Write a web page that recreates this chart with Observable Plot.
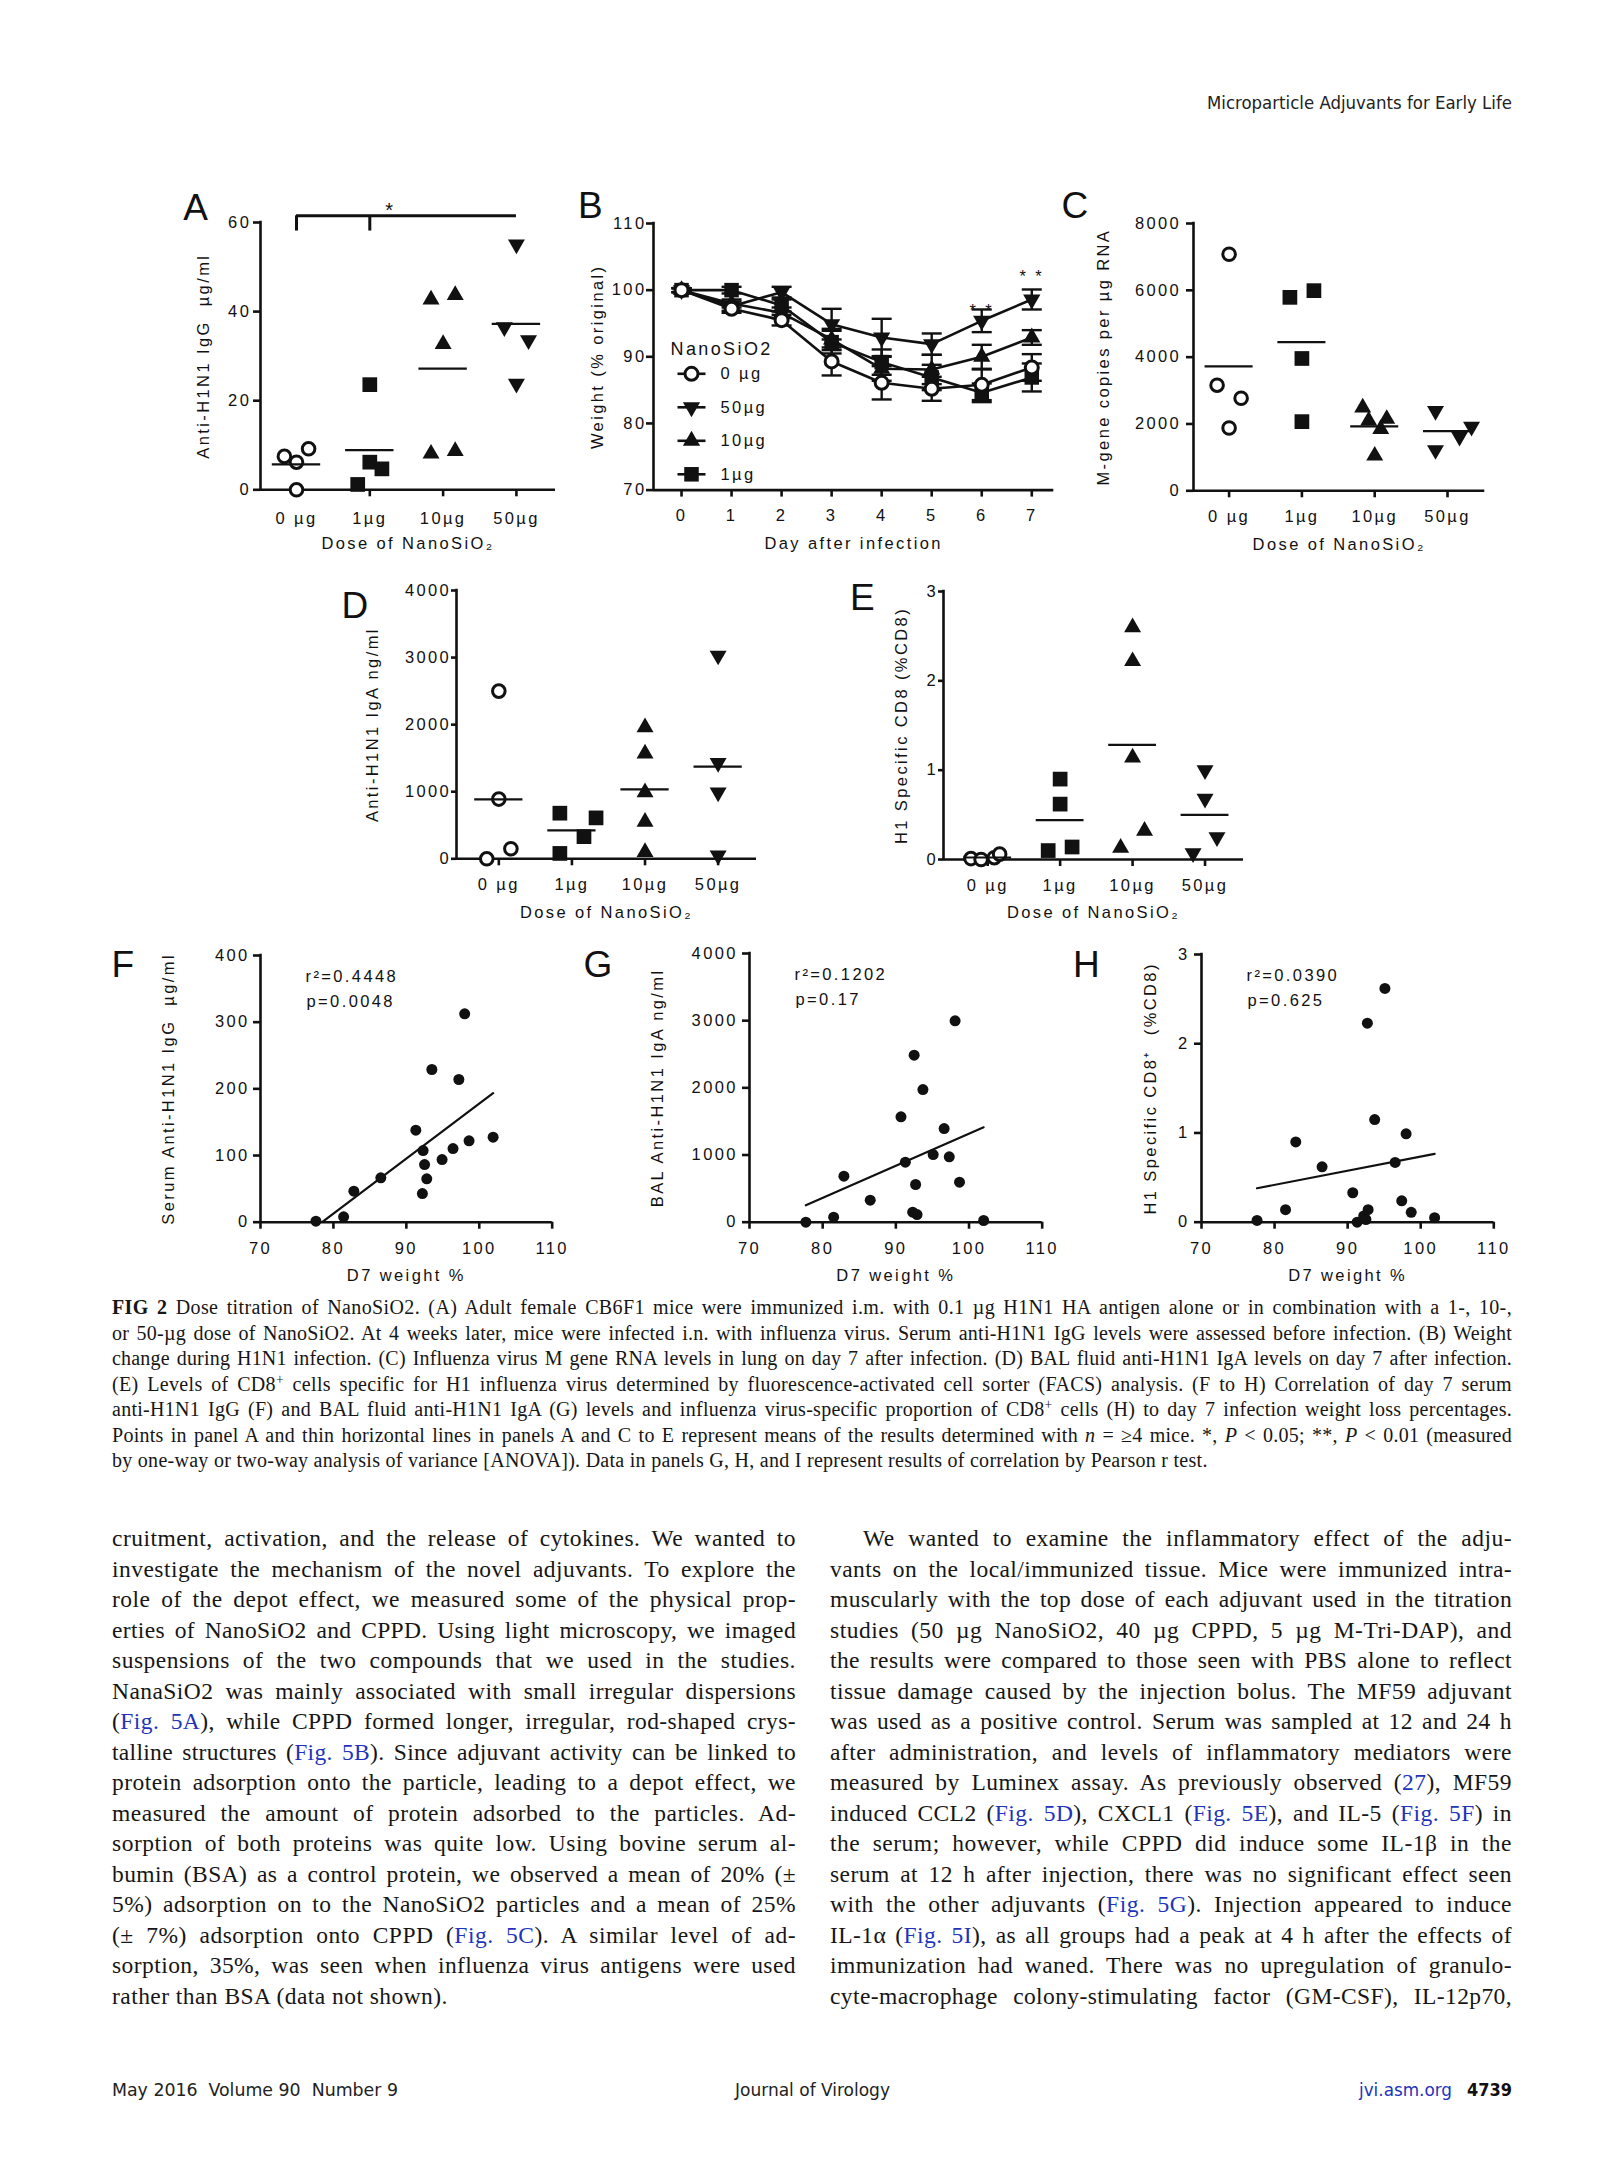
<!DOCTYPE html>
<html><head><meta charset="utf-8">
<script src="https://cdn.jsdelivr.net/npm/d3@7"></script>
<script src="https://cdn.jsdelivr.net/npm/@observablehq/plot@0.6"></script>
<style>
html,body{margin:0;padding:0;background:#fff;}
body{width:1624px;height:2174px;position:relative;overflow:hidden;}
.abs{position:absolute;}
.letter{position:absolute;font-family:'Liberation Sans',Arial,sans-serif;font-size:37px;line-height:37px;color:#111;}
.lnk{color:#2233bb;}
sup{font-size:0.68em;line-height:0;vertical-align:0.5em;}
.hf{position:absolute;white-space:nowrap;font-family:'Liberation Sans Narrow','DejaVu Sans Condensed','Liberation Sans',sans-serif;font-size:17px;line-height:20px;color:#222;transform-origin:0 0;}
</style></head><body>
<script>
// ================= DATA =================
const doseLabels = ["0 µg", "1µg", "10µg", "50µg"];

// Panel A: serum anti-H1N1 IgG (µg/ml) per dose group
const iggA = [[7.5, 6.2, 9.2, 0], [23.6, 6.2, 4.7, 1.2], [42.7, 43.7, 32.7, 8.1, 8.7], [55.1, 36.5, 33.6, 23.8]];
const slotsA = [[-1, 0, 1, 0], [0, 0, 1, -1], [-1, 1, 0, -1, 1], [0, -1, 1, 0]];
const sigA = {from: 0, mid: 1, to: 3, label: "*"};

// Panel B: weight (% original) by day
const days = [0, 1, 2, 3, 4, 5, 6, 7];
const weightSeries = ["0 µg", "50µg", "10µg", "1µg"];
const weight0 = [100, 97.2, 95.5, 89.3, 86.1, 85.2, 85.8, 88.4];
const weight50 = [100, 97.6, 99.7, 94.9, 92.9, 91.9, 95.4, 98.6];
const weight10 = [100, 98.0, 96.6, 92.6, 88.2, 88.1, 90.0, 92.9];
const weight1 = [100, 100, 97.7, 92.2, 89.2, 86.9, 84.6, 86.9];
const sem0 = [0.3, 0.6, 0.8, 2.1, 2.5, 1.8, 2.3, 2.0];
const sem50 = [0.3, 0.7, 0.8, 2.3, 2.8, 1.6, 1.7, 1.5];
const sem10 = [0.3, 0.6, 0.8, 1.6, 1.8, 2.2, 1.8, 1.1];
const sem1 = [0.3, 0.5, 0.9, 1.7, 1.9, 1.9, 1.4, 2.1];
const starsB = [{day: 6, label: "* *"}, {day: 7, label: "* *"}];

// Panel C: M-gene copies per µg RNA
const mgeneC = [[7080, 3160, 2770, 1880], [5790, 5990, 3960, 2070], [2490, 2100, 2150, 1850, 1050], [2390, 1220, 1620, 1920]];
const slotsC = [[0, -1, 1, 0], [-1, 1, 0, 0], [-1, -0.5, 1, 0.5, 0], [-1, -1, 1, 2]];

// Panel D: BAL anti-H1N1 IgA ng/ml
const igaD = [[2500, 890, 150, 0], [680, 610, 330, 80], [1960, 1570, 990, 550, 100], [3030, 1430, 990, 50]];
const slotsD = [[0, 0, 1, -1], [-1, 2, 1, -1], [0, 0, 0, 0, 0], [0, 0, 0, 0]];

// Panel E: H1 specific CD8 (% CD8)
const cd8E = [[0.01, 0.0, 0.02, 0.06], [0.90, 0.62, 0.10, 0.14], [2.60, 2.22, 1.14, 0.32, 0.13], [1.00, 0.68, 0.25, 0.07]];
const slotsE = [[-1.4, -0.55, 0.55, 1], [0, 0, -1, 1], [0, 0, 0, 1, -1], [0, 0, 1, -1]];

// Panels F-H: correlations with D7 weight %
const weightF = [77.6, 81.4, 82.8, 86.5, 91.3, 92.2, 92.3, 92.5, 92.8, 93.5, 94.9, 96.4, 97.2, 98.0, 98.6, 101.9];
const serumIgGF = [1.5, 8, 46.5, 66.5, 138, 43, 107.5, 86.5, 65, 229, 94, 110.5, 214, 312.5, 122, 127.5];
const weightG = [77.7, 81.5, 82.9, 86.5, 90.7, 91.3, 92.5, 93.7, 92.7, 92.3, 92.9, 95.1, 96.6, 97.3, 98.1, 98.7, 102.0];
const balIgAG = [0, 74, 685, 327, 1568, 893, 2486, 1975, 561, 149, 114, 1007, 1394, 973, 2997, 595, 25];
const weightH = [77.6, 81.5, 82.9, 86.5, 90.7, 91.3, 92.7, 92.2, 92.5, 92.8, 93.7, 95.1, 96.5, 97.4, 98.0, 98.7, 101.9];
const cd8H = [0.02, 0.14, 0.90, 0.62, 0.33, 0.0, 2.23, 0.07, 0.03, 0.14, 1.15, 2.62, 0.67, 0.24, 0.99, 0.11, 0.05];
const statsF = ["r²=0.4448", "p=0.0048"];
const statsG = ["r²=0.1202", "p=0.17"];
const statsH = ["r²=0.0390", "p=0.625"];

// ================= STYLE =================
const INK = "#111";
const AXIS_W = 2.6;
const SLOT = 0.165;
const MEAN_HALF = 0.33;
const FONT = "'Liberation Sans', Arial, Helvetica, sans-serif";
const sqrt3 = Math.sqrt(3);
const triangleDown = {draw(ctx, size) {
  const y = -Math.sqrt(size / (sqrt3 * 3));
  ctx.moveTo(0, -2 * y); ctx.lineTo(-sqrt3 * y, y); ctx.lineTo(sqrt3 * y, y); ctx.closePath();
}};
const hline = {draw(ctx, size) {
  const w = Math.sqrt(size / Math.PI);
  ctx.moveTo(-w, 0); ctx.lineTo(w, 0);
}};
const groupStyle = [
  {symbol: "circle", r: 6.3, fill: "white", stroke: INK, strokeWidth: 3},
  {symbol: "square", r: 8.3, fill: INK, stroke: "none"},
  {symbol: "triangle", r: 6.3, fill: INK, stroke: "none"},
  {symbol: triangleDown, r: 6.3, fill: INK, stroke: "none"}
];
const seriesStyle = [
  {symbol: "circle", r: 6.5, fill: "white", stroke: INK, strokeWidth: 3},
  {symbol: triangleDown, r: 6.4, fill: INK, stroke: "none"},
  {symbol: "triangle", r: 6.4, fill: INK, stroke: "none"},
  {symbol: "square", r: 8.2, fill: INK, stroke: "none"}
];

function makePanel(o) {
  const [x0, y0, x1, y1] = o.frame;
  const mL = 115, mT = 60, mR = 30, mB = 85;
  const svg = Plot.plot({
    width: x1 - x0 + mL + mR,
    height: y1 - y0 + mT + mB,
    marginLeft: mL, marginTop: mT, marginRight: mR, marginBottom: mB,
    x: {type: "linear", domain: o.xDomain},
    y: {type: "linear", domain: o.yDomain},
    style: `font-family:${FONT};font-size:16.5px;letter-spacing:2.4px;color:${INK};background:transparent;overflow:visible;`,
    marks: [
      Plot.ruleY([o.yDomain[0]], {stroke: INK, strokeWidth: AXIS_W}),
      Plot.ruleX([o.xDomain[0]], {stroke: INK, strokeWidth: AXIS_W, strokeLinecap: "square"}),
      Plot.axisX({ticks: o.xTicks, tickFormat: o.xTickFormat, tickSize: 7, tickPadding: o.xTickPad, stroke: INK, strokeWidth: AXIS_W, label: null}),
      Plot.axisY({ticks: o.yTicks, tickFormat: d => String(d), tickSize: o.yTickSize ?? 7, tickPadding: o.yTickPad, stroke: INK, strokeWidth: AXIS_W, label: null}),
      Plot.text([o.xLabel], {text: d => d, frameAnchor: "bottom", dy: 53.5, textAnchor: "middle", lineAnchor: "middle", fill: INK}),
      Plot.text([o.yLabel], {text: d => d, frameAnchor: "left", dx: -o.yLabelOffset, rotate: -90, textAnchor: "middle", lineAnchor: "middle", fill: INK}),
      ...o.marks
    ]
  });
  Object.assign(svg.style, {position: "absolute", left: (x0 - mL) + "px", top: (y0 - mT) + "px", maxWidth: "none"});
  document.body.appendChild(svg);
}

function dotMarks(groups, slots) {
  const rows = groups.flatMap((vals, g) => vals.map((v, i) => ({g, v, x: g + slots[g][i] * SLOT})));
  const means = groups.map((vals, g) => ({g, m: d3.mean(vals)}));
  return [
    ...groupStyle.map((s, g) => Plot.dot(rows.filter(d => d.g === g), {x: "x", y: "v", ...s})),
    Plot.ruleY(means, {y: "m", x1: d => d.g - MEAN_HALF, x2: d => d.g + MEAN_HALF, stroke: INK, strokeWidth: 2.2})
  ];
}

function dotPanel(o) {
  makePanel({...o, xTicks: [0, 1, 2, 3], xTickFormat: i => doseLabels[i], xLabel: "Dose of NanoSiO₂",
    marks: [...dotMarks(o.groups, o.slots), ...(o.extra || [])]});
}

function scatterPanel(o) {
  const rows = o.xs.map((x, i) => ({x, y: o.ys[i]}));
  makePanel({...o, xDomain: [70, 110], xTicks: [70, 80, 90, 100, 110], xTickFormat: d => String(d), xLabel: "D7 weight %",
    marks: [
      Plot.linearRegressionY(rows, {x: "x", y: "y", ci: 0, stroke: INK, strokeWidth: 2.2, clip: true}),
      Plot.dot(rows, {x: "x", y: "y", r: 5.5, fill: INK}),
      Plot.text([o.stats[0]], {text: d => d, frameAnchor: "top-left", dx: 45, dy: 21.5, textAnchor: "start", lineAnchor: "middle", fill: INK}),
      Plot.text([o.stats[1]], {text: d => d, frameAnchor: "top-left", dx: 46, dy: 46.5, textAnchor: "start", lineAnchor: "middle", fill: INK})
    ]});
}

// ---- Panel A ----
const bracketTop = 60 * 1.025, bracketFoot = 60 * 0.968;
dotPanel({frame: [260, 221.7, 555, 489], xDomain: [-0.491, 3.533], yDomain: [0, 60], yTicks: [0, 20, 40, 60],
  yTickPad: 2.3, xTickPad: 15.4, yLabel: "Anti-H1N1 IgG  µg/ml", yLabelOffset: 56.7,
  groups: iggA, slots: slotsA,
  extra: [
    Plot.ruleY([bracketTop], {x1: sigA.from, x2: sigA.to, stroke: INK, strokeWidth: 3}),
    Plot.ruleX([sigA.from, sigA.mid], {x: d => d, y1: bracketFoot, y2: bracketTop, stroke: INK, strokeWidth: 3}),
    Plot.text([sigA], {x: d => (d.from + d.to) / 2, y: bracketTop, text: "label", dx: -16, dy: 1, lineAnchor: "bottom", fontSize: 20, fill: INK})
  ]});

// ---- Panel B ----
const weights = [weight0, weight50, weight10, weight1];
const sems = [sem0, sem50, sem10, sem1];
const weightRows = weightSeries.flatMap((s, k) => days.map((d, i) => ({k, day: d, v: weights[k][i], e: sems[k][i]})));
const legendMarks = weightSeries.flatMap((s, k) => [
  Plot.dot([s], {frameAnchor: "top-left", dx: 38, dy: 150.3 + k * 33.5, symbol: hline, r: 14, stroke: INK, strokeWidth: 2.6, fill: "none"}),
  Plot.dot([s], {frameAnchor: "top-left", dx: 38, dy: 150.3 + k * 33.5, ...seriesStyle[k]}),
  Plot.text([s], {text: d => d, frameAnchor: "top-left", dx: 67, dy: 150.3 + k * 33.5, textAnchor: "start", lineAnchor: "middle", fill: INK})
]);
const starY = d => weight50[d.day] + sem50[d.day];
makePanel({frame: [653, 222.7, 1053.3, 489.3], xDomain: [-0.56, 7.44], yDomain: [70, 110],
  xTicks: days, xTickFormat: d => String(d), xTickPad: 12.1, yTicks: [70, 80, 90, 100, 110], yTickPad: 0,
  xLabel: "Day after infection", yLabel: "Weight (% original)", yLabelOffset: 55.7,
  marks: [
    Plot.line(weightRows, {x: "day", y: "v", z: "k", stroke: INK, strokeWidth: 2.6}),
    Plot.ruleX(weightRows, {x: "day", y1: d => d.v - d.e, y2: d => d.v + d.e, stroke: INK, strokeWidth: 2.4}),
    Plot.dot(weightRows, {x: "day", y: d => d.v + d.e, symbol: hline, r: 10, stroke: INK, strokeWidth: 2.4, fill: "none"}),
    Plot.dot(weightRows, {x: "day", y: d => d.v - d.e, symbol: hline, r: 10, stroke: INK, strokeWidth: 2.4, fill: "none"}),
    ...[3, 2, 1, 0].map(k => Plot.dot(weightRows.filter(d => d.k === k), {x: "day", y: "v", ...seriesStyle[k]})),
    Plot.text(["NanoSiO2"], {text: d => d, frameAnchor: "top-left", dx: 17, dy: 125.3, textAnchor: "start", lineAnchor: "middle", fontSize: 18, fill: INK}),
    ...legendMarks,
    Plot.text([starsB[0]], {x: "day", y: starY, text: "label", lineAnchor: "bottom", dy: 6.8, fill: INK}),
    Plot.text([starsB[1]], {x: "day", y: starY, text: "label", lineAnchor: "bottom", dy: -7.2, fill: INK})
  ]});

// ---- Panel C ----
dotPanel({frame: [1192.7, 222.7, 1484, 490], xDomain: [-0.489, 3.512], yDomain: [0, 8000], yTicks: [0, 2000, 4000, 6000, 8000],
  yTickPad: 5.3, xTickPad: 12, yLabel: "M-gene copies per µg RNA", yLabelOffset: 90, groups: mgeneC, slots: slotsC});

// ---- Panel D ----
dotPanel({frame: [456, 590, 756, 858.3], xDomain: [-0.579, 3.525], yDomain: [0, 4000], yTicks: [0, 1000, 2000, 3000, 4000],
  yTickSize: 5, yTickPad: 0.3, xTickPad: 12, yLabel: "Anti-H1N1 IgA ng/ml", yLabelOffset: 83.3, groups: igaD, slots: slotsD});

// ---- Panel E ----
dotPanel({frame: [942.7, 590.7, 1242.7, 858.7], xDomain: [-0.61, 3.531], yDomain: [0, 3], yTicks: [0, 1, 2, 3],
  yTickSize: 5, yTickPad: 0.3, xTickPad: 12.7, yLabel: "H1 Specific CD8 (%CD8)", yLabelOffset: 42, groups: cd8E, slots: slotsE});

// ---- Panels F, G, H ----
scatterPanel({frame: [260, 955.3, 551.7, 1222], yDomain: [0, 400], yTicks: [0, 100, 200, 300, 400], yTickPad: 3.9, xTickPad: 12.8,
  yLabel: "Serum Anti-H1N1 IgG  µg/ml", yLabelOffset: 91.7, xs: weightF, ys: serumIgGF, stats: statsF});
scatterPanel({frame: [749, 953.3, 1041.7, 1222], yDomain: [0, 4000], yTicks: [0, 1000, 2000, 3000, 4000], yTickPad: 4.6, xTickPad: 13.4,
  yLabel: "BAL Anti-H1N1 IgA ng/ml", yLabelOffset: 91.7, xs: weightG, ys: balIgAG, stats: statsG});
scatterPanel({frame: [1201, 954.3, 1493.3, 1222], yDomain: [0, 3], yTicks: [0, 1, 2, 3], yTickPad: 4.9, xTickPad: 12.8,
  yLabel: "H1 Specific CD8⁺  (%CD8)", yLabelOffset: 51, xs: weightH, ys: cd8H, stats: statsH});

// ---- Panel letters ----
[["A", 183.3, 220], ["B", 578, 218.3], ["C", 1061.5, 218.3], ["D", 341.5, 618.3], ["E", 850, 610], ["F", 111.5, 977.7], ["G", 583.5, 977.7], ["H", 1073, 977.7]]
  .forEach(([t, x, base]) => {
    const d = document.createElement("div");
    d.className = "letter"; d.textContent = t;
    d.style.left = x + "px"; d.style.top = (base - 31.3) + "px";
    document.body.appendChild(d);
  });

// ================= TEXT =================
function justifyBlock({left, top, width, fontSize, lineHeight, lines, indent = 0, lastNatural = true, lsCap = 0.5}) {
  const block = document.createElement("div");
  block.className = "abs";
  Object.assign(block.style, {left: left + "px", top: top + "px", width: width + "px", fontSize: fontSize + "px",
    lineHeight: lineHeight + "px", fontFamily: "'Liberation Serif','Times New Roman',serif", color: "#161616"});
  document.body.appendChild(block);
  const lsList = [];
  const spans = lines.map((html, i) => {
    const row = document.createElement("div");
    row.style.whiteSpace = "nowrap";
    row.style.height = lineHeight + "px";
    const ind = i === 0 ? indent : 0;
    row.style.paddingLeft = ind + "px";
    const span = document.createElement("span");
    span.innerHTML = html;
    row.appendChild(span);
    block.appendChild(row);
    return {span, ind};
  });
  spans.forEach(({span, ind}, i) => {
    const w = span.getBoundingClientRect().width;
    const target = width - ind;
    const chars = span.textContent.length;
    const n = (span.textContent.match(/ /g) || []).length;
    const last = i === lines.length - 1 && lastNatural;
    if (last) {
      const ls = lsList.length ? d3.mean(lsList) : 0;
      span.style.letterSpacing = ls + "px";
      return;
    }
    const extra = target - w;
    let ls = extra > 0 ? Math.min(0.4 * extra / chars, lsCap) : extra / chars * 0.5;
    span.style.letterSpacing = ls + "px";
    lsList.push(ls);
    if (n > 0) span.style.wordSpacing = ((extra - ls * chars) / n) + "px";
  });
}

const L = s => `<span class="lnk">${s}</span>`;
const captionLines = [
  `<b>FIG 2</b> Dose titration of NanoSiO2. (A) Adult female CB6F1 mice were immunized i.m. with 0.1 µg H1N1 HA antigen alone or in combination with a 1-, 10-,`,
  `or 50-µg dose of NanoSiO2. At 4 weeks later, mice were infected i.n. with influenza virus. Serum anti-H1N1 IgG levels were assessed before infection. (B) Weight`,
  `change during H1N1 infection. (C) Influenza virus M gene RNA levels in lung on day 7 after infection. (D) BAL fluid anti-H1N1 IgA levels on day 7 after infection.`,
  `(E) Levels of CD8<sup>+</sup> cells specific for H1 influenza virus determined by fluorescence-activated cell sorter (FACS) analysis. (F to H) Correlation of day 7 serum`,
  `anti-H1N1 IgG (F) and BAL fluid anti-H1N1 IgA (G) levels and influenza virus-specific proportion of CD8<sup>+</sup> cells (H) to day 7 infection weight loss percentages.`,
  `Points in panel A and thin horizontal lines in panels A and C to E represent means of the results determined with <i>n</i> = ≥4 mice. *, <i>P</i> &lt; 0.05; **, <i>P</i> &lt; 0.01 (measured`,
  `by one-way or two-way analysis of variance [ANOVA]). Data in panels G, H, and I represent results of correlation by Pearson r test.`
];
justifyBlock({left: 112, top: 1295, width: 1400, fontSize: 20, lineHeight: 25.5, lines: captionLines, lsCap: 0.4});

const leftCol = [
  `cruitment, activation, and the release of cytokines. We wanted to`,
  `investigate the mechanism of the novel adjuvants. To explore the`,
  `role of the depot effect, we measured some of the physical prop-`,
  `erties of NanoSiO2 and CPPD. Using light microscopy, we imaged`,
  `suspensions of the two compounds that we used in the studies.`,
  `NanaSiO2 was mainly associated with small irregular dispersions`,
  `(${L("Fig. 5A")}), while CPPD formed longer, irregular, rod-shaped crys-`,
  `talline structures (${L("Fig. 5B")}). Since adjuvant activity can be linked to`,
  `protein adsorption onto the particle, leading to a depot effect, we`,
  `measured the amount of protein adsorbed to the particles. Ad-`,
  `sorption of both proteins was quite low. Using bovine serum al-`,
  `bumin (BSA) as a control protein, we observed a mean of 20% (±`,
  `5%) adsorption on to the NanoSiO2 particles and a mean of 25%`,
  `(± 7%) adsorption onto CPPD (${L("Fig. 5C")}). A similar level of ad-`,
  `sorption, 35%, was seen when influenza virus antigens were used`,
  `rather than BSA (data not shown).`
];
justifyBlock({left: 112, top: 1523, width: 684, fontSize: 23.5, lineHeight: 30.5, lines: leftCol});

const rightCol = [
  `We wanted to examine the inflammatory effect of the adju-`,
  `vants on the local/immunized tissue. Mice were immunized intra-`,
  `muscularly with the top dose of each adjuvant used in the titration`,
  `studies (50 µg NanoSiO2, 40 µg CPPD, 5 µg M-Tri-DAP), and`,
  `the results were compared to those seen with PBS alone to reflect`,
  `tissue damage caused by the injection bolus. The MF59 adjuvant`,
  `was used as a positive control. Serum was sampled at 12 and 24 h`,
  `after administration, and levels of inflammatory mediators were`,
  `measured by Luminex assay. As previously observed (${L("27")}), MF59`,
  `induced CCL2 (${L("Fig. 5D")}), CXCL1 (${L("Fig. 5E")}), and IL-5 (${L("Fig. 5F")}) in`,
  `the serum; however, while CPPD did induce some IL-1β in the`,
  `serum at 12 h after injection, there was no significant effect seen`,
  `with the other adjuvants (${L("Fig. 5G")}). Injection appeared to induce`,
  `IL-1α (${L("Fig. 5I")}), as all groups had a peak at 4 h after the effects of`,
  `immunization had waned. There was no upregulation of granulo-`,
  `cyte-macrophage colony-stimulating factor (GM-CSF), IL-12p70,`
];
justifyBlock({left: 830, top: 1523, width: 682, fontSize: 23.5, lineHeight: 30.5, lines: rightCol, indent: 33, lastNatural: false});

function hf(html, left, top, width, extra = "") {
  const d = document.createElement("div");
  d.className = "hf"; d.innerHTML = html;
  d.style.left = left + "px"; d.style.top = top + "px";
  if (extra) d.style.cssText += extra;
  document.body.appendChild(d);
  const w = d.getBoundingClientRect().width;
  d.style.transform = `scaleX(${width / w})`;
}
hf("Microparticle Adjuvants for Early Life", 1207, 93, 305);
hf("May 2016&nbsp;&nbsp;Volume 90&nbsp;&nbsp;Number 9", 112, 2080, 286);
hf("Journal of Virology", 735, 2080, 155);
hf("jvi.asm.org", 1359, 2080, 93, "color:#2233bb;");
hf("4739", 1467, 2080, 45, "font-weight:bold;color:#111;");
</script>
</body></html>
